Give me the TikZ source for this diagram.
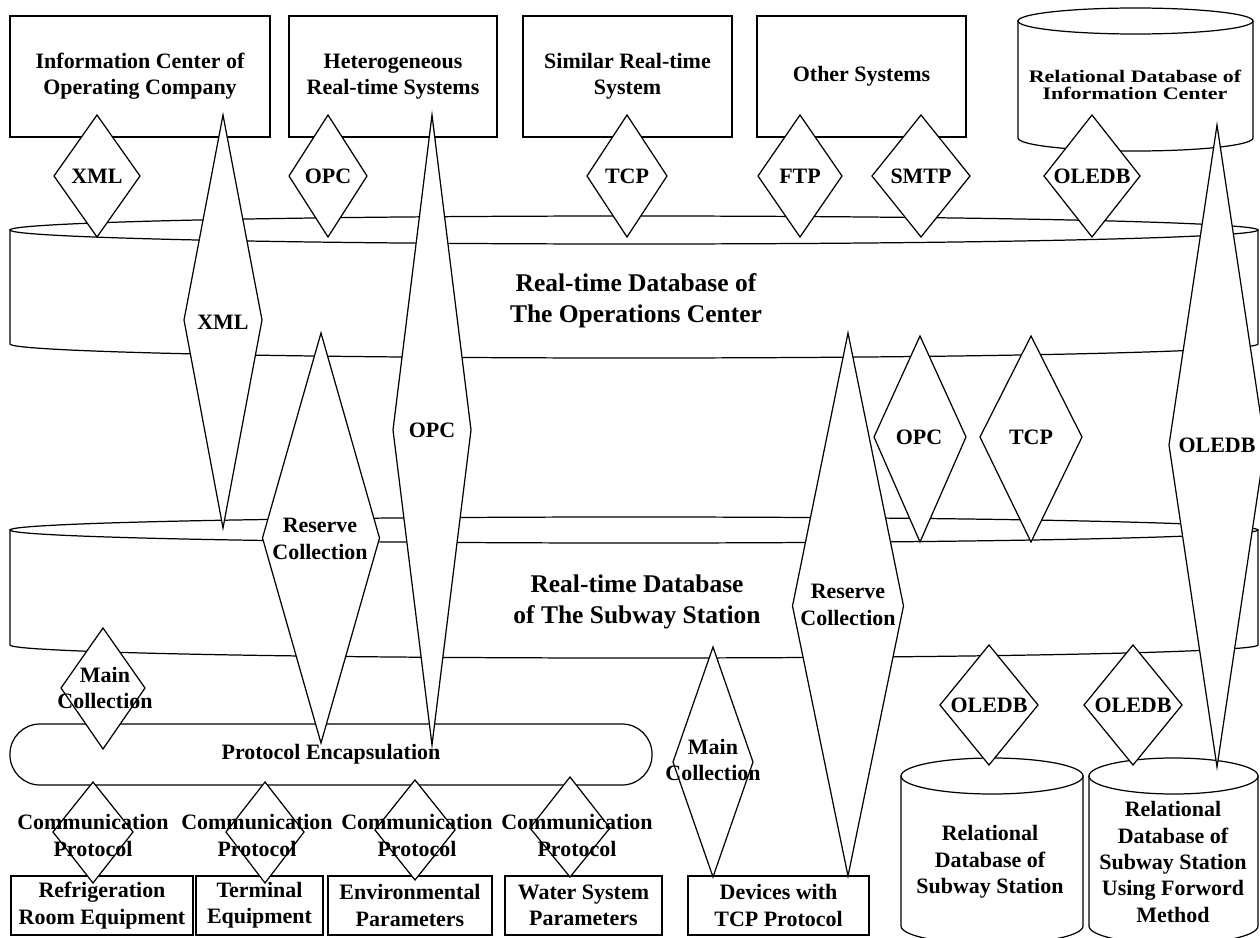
\documentclass[tikz,border=0pt]{standalone}
\usepackage{fontspec}
\setmainfont{Liberation Serif}

% centre x, top, widest row, half width, bottom
\newcommand{\drawkite}[5]{%
  \draw[kiteline] (#1,#2) -- (#1-#4,#3) -- (#1,#5) -- (#1+#4,#3) -- cycle;}
% centre x, top, bottom, x radius, y radius
\newcommand{\dbcyl}[5]{%
  \draw[kiteline] (#1-#4,#2) -- (#1-#4,#3) arc[start angle=180, end angle=0, x radius=#4, y radius=#5] -- (#1+#4,#2) -- cycle;
  \draw[kiteline] (#1,#2) ellipse[x radius=#4, y radius=#5];}

\begin{document}
\begin{tikzpicture}[x=0.2mm,y=-0.2mm,line width=0.7pt,
  kiteline/.style={draw,fill=white},
  box/.style={draw,fill=white,inner sep=0pt,align=center,font=\fontsize{12.5}{15}\selectfont\bfseries},
  lbl/.style={align=center,inner sep=0pt,font=\fontsize{12.5}{15}\selectfont\bfseries},
  big/.style={align=center,inner sep=0pt,font=\fontsize{14.5}{17.6}\selectfont\bfseries}]

\useasboundingbox[fill=white] (0,0) rectangle (1260,938);

% systems on top
\node[box, minimum width=52mm, minimum height=24.2mm] (T1) at (140,76.5) {Information Center of\\Operating Company};
\node[box, minimum width=41.6mm, minimum height=24.2mm] (T2) at (393,76.5) {Heterogeneous\\Real-time Systems};
\node[box, minimum width=41.8mm, minimum height=24.2mm] (T3) at (627.5,76.5) {Similar Real-time\\System};
\node[box, minimum width=41.8mm, minimum height=24.2mm] (T4) at (861.5,76.5) {Other Systems};
\dbcyl{1135.5}{21}{138}{117.5}{13}

% the two real-time databases
\dbcyl{634}{230}{344}{624}{14}
\dbcyl{634}{530}{645}{624}{13}

% station side
\node[box, rounded corners=6mm, minimum width=128.4mm, minimum height=12.2mm] (PE) at (331,754.5) {Protocol Encapsulation};
\node[box, minimum width=36.4mm, minimum height=11.8mm] (R1) at (102,905.5) {Refrigeration\\Room Equipment};
\node[box, minimum width=25.4mm, minimum height=11.8mm] (R2) at (259.5,905.5) {Terminal\\Equipment};
\node[box, minimum width=32.8mm, minimum height=11.8mm] (R3) at (410,905.5) {Environmental\\Parameters};
\node[box, minimum width=31.4mm, minimum height=11.8mm] (R4) at (583.5,905.5) {Water System\\Parameters};
\node[box, minimum width=36.2mm, minimum height=11.8mm] (R5) at (778.5,905.5) {Devices with\\TCP Protocol};
\dbcyl{992}{776}{926}{91}{18}
\dbcyl{1173.5}{776}{926}{84.5}{18}

% interfaces
\drawkite{97}{115}{176}{43}{237}
\drawkite{328}{115}{176}{39}{237}
\drawkite{627}{115}{176}{40}{237}
\drawkite{800}{115}{176}{42}{237}
\drawkite{921}{115}{176}{49}{237}
\drawkite{1092}{115}{176}{48}{237}
\drawkite{223}{115}{320}{39}{528}
\drawkite{432}{115}{430}{39}{745}
\drawkite{321}{333}{538}{58.5}{743}
\drawkite{848}{333}{606}{55.5}{876}
\drawkite{920}{336}{437}{46}{542}
\drawkite{1031}{336}{437}{51}{542}
\drawkite{1217}{125}{445}{48}{767}
\drawkite{103}{628}{688}{42}{749}
\drawkite{713}{647}{762}{40}{877}
\drawkite{989}{645}{705}{49}{765}
\drawkite{1133}{645}{705}{49}{765}
\drawkite{93}{782}{832}{40}{883}
\drawkite{265}{782}{832}{39}{883}
\drawkite{415}{780}{830}{40}{880}
\drawkite{570}{777}{828}{40}{877}

% texts
\node[lbl, font=\fontsize{12.5}{9.8}\selectfont\bfseries] (RDI) at (1135,85) {\scalebox{1}[0.8]{Relational Database of}\\\scalebox{1}[0.8]{Information Center}};
\node[big] (OC) at (636,301) {Real-time Database of\\The Operations Center};
\node[big] (SS) at (637,602) {Real-time Database\\of The Subway Station};
\node[lbl] (RDS) at (990,862) {Relational\\Database of\\Subway Station};
\node[lbl] (RDF) at (1173,862) {Relational\\Database of\\Subway Station\\Using Forword\\Method};

\node[lbl] (K1) at (97,176) {XML};
\node[lbl] (K2) at (328,176) {OPC};
\node[lbl] (K3) at (627,176) {TCP};
\node[lbl] (K4) at (800,176) {FTP};
\node[lbl] (K5) at (921,176) {SMTP};
\node[lbl] (K6) at (1092,176) {OLEDB};
\node[lbl] (K7) at (223,322) {XML};
\node[lbl] (K8) at (432,430) {OPC};
\node[lbl] (K9) at (320,539) {Reserve\\Collection};
\node[lbl] (K10) at (848,605) {Reserve\\Collection};
\node[lbl] (K11) at (919,437) {OPC};
\node[lbl] (K12) at (1031,437) {TCP};
\node[lbl] (K13) at (1217,445) {OLEDB};
\node[lbl] (K14) at (105,688) {Main\\Collection};
\node[lbl] (K15) at (713,760) {Main\\Collection};
\node[lbl] (K16) at (989,705) {OLEDB};
\node[lbl] (K17) at (1133,705) {OLEDB};
\node[lbl] (C1) at (93,835.5) {Communication\\Protocol};
\node[lbl] (C2) at (257,835.5) {Communication\\Protocol};
\node[lbl] (C3) at (417,835.5) {Communication\\Protocol};
\node[lbl] (C4) at (577,835.5) {Communication\\Protocol};

\end{tikzpicture}
\end{document}
